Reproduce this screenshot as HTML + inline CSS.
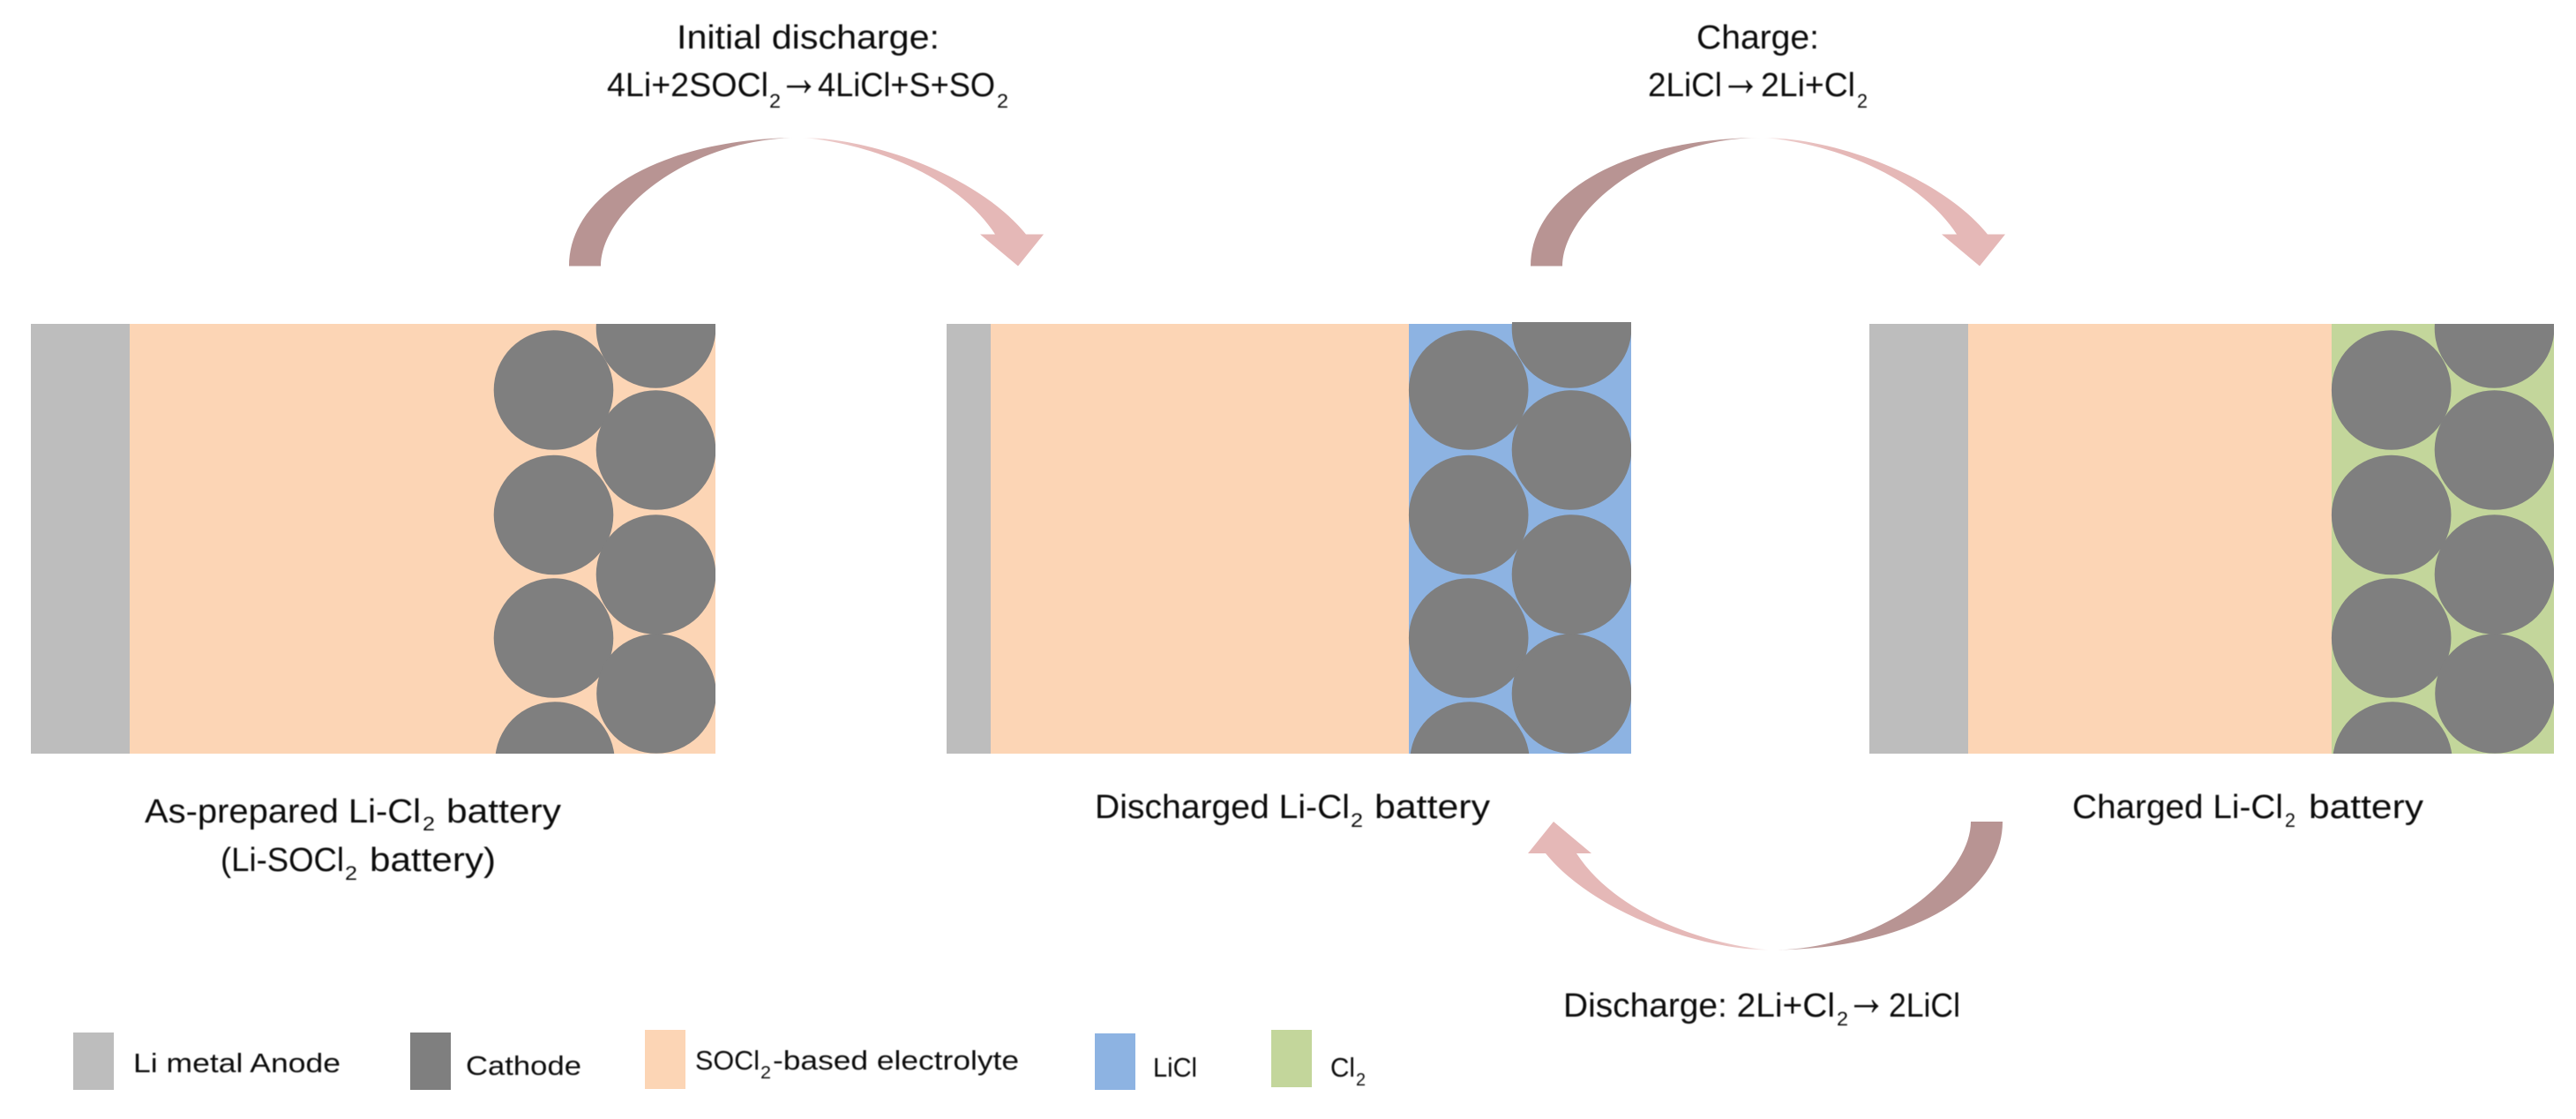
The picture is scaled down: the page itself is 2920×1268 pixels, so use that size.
<!DOCTYPE html>
<html><head><meta charset="utf-8"><style>
html,body{margin:0;padding:0;background:#fff;width:2920px;height:1268px;overflow:hidden}
svg{display:block}
text{font-family:"Liberation Sans",sans-serif;fill:#0c0c0c}
.m{font-size:38px}.s{font-size:22px}.l{font-size:30.5px}.t{font-size:20px}.a{font-size:60px}
.soft{filter:blur(.5px)}
</style></head><body>
<svg width="2920" height="1268" viewBox="0 0 2920 1268" xmlns="http://www.w3.org/2000/svg">
<defs>
<linearGradient id="dk" x1="0" x2="1" y1="0" y2="0"><stop offset="0" stop-color="#b89493"/><stop offset=".72" stop-color="#b89493"/><stop offset=".92" stop-color="#c4a6a5"/><stop offset="1" stop-color="#fff"/></linearGradient>
<linearGradient id="lt" x1="0" x2="1" y1="0" y2="0"><stop offset="0" stop-color="#fff"/><stop offset=".1" stop-color="#ecc9c8"/><stop offset=".3" stop-color="#e5b8b7"/><stop offset="1" stop-color="#e5b8b7"/></linearGradient>
<clipPath id="c1"><rect x="35" y="367" width="776" height="487"/></clipPath>
<clipPath id="c2"><rect x="1073" y="365" width="776" height="489"/></clipPath>
<clipPath id="c3"><rect x="2119" y="367" width="776" height="487"/></clipPath>
<g id="arrow">
<path d="M645 301.5C645 215 760 156 908 156C780 156 681 240 681 301.5Z" fill="url(#dk)"/>
<path d="M908 156C990 156 1110 200 1163 265.5L1183 265.5L1154 301.5L1111 265.5L1128 265.5C1080 192 970 160 908 156Z" fill="url(#lt)"/>
</g>
</defs>

<!-- Battery 1 -->
<rect x="35" y="367" width="112" height="487" fill="#bdbdbd"/>
<rect x="147" y="367" width="664" height="487" fill="#fcd5b5"/>
<g fill="#7f7f7f" clip-path="url(#c1)">
<circle cx="627.5" cy="442" r="67.8"/><circle cx="627.5" cy="583.5" r="67.8"/><circle cx="627.5" cy="723" r="67.8"/><circle cx="629" cy="863" r="67.8"/>
<circle cx="743.5" cy="372" r="67.8"/><circle cx="743.5" cy="510" r="67.8"/><circle cx="743.5" cy="651" r="67.8"/><circle cx="744" cy="786" r="67.8"/>
</g>

<!-- Battery 2 -->
<rect x="1073" y="367" width="50" height="487" fill="#bdbdbd"/>
<rect x="1123" y="367" width="474" height="487" fill="#fcd5b5"/>
<rect x="1597" y="367" width="252" height="487" fill="#8db3e2"/>
<g fill="#7f7f7f" clip-path="url(#c2)">
<circle cx="1664.7" cy="442" r="67.8"/><circle cx="1664.7" cy="583.5" r="67.8"/><circle cx="1664.7" cy="723" r="67.8"/><circle cx="1666" cy="863" r="67.8"/>
<circle cx="1781.5" cy="372" r="67.8"/><circle cx="1781.5" cy="510" r="67.8"/><circle cx="1781.5" cy="651" r="67.8"/><circle cx="1781.5" cy="786" r="67.8"/>
</g>

<!-- Battery 3 -->
<rect x="2119" y="367" width="112" height="487" fill="#bdbdbd"/>
<rect x="2231" y="367" width="412" height="487" fill="#fcd5b5"/>
<rect x="2643" y="367" width="252" height="487" fill="#c3d69b"/>
<g fill="#7f7f7f" clip-path="url(#c3)">
<circle cx="2710.7" cy="442" r="67.8"/><circle cx="2710.7" cy="583.5" r="67.8"/><circle cx="2710.7" cy="723" r="67.8"/><circle cx="2712" cy="863" r="67.8"/>
<circle cx="2827.5" cy="372" r="67.8"/><circle cx="2827.5" cy="510" r="67.8"/><circle cx="2827.5" cy="651" r="67.8"/><circle cx="2828" cy="786" r="67.8"/>
</g>

<!-- Curved arrows -->
<use href="#arrow"/>
<use href="#arrow" transform="translate(1090 0)"/>
<use href="#arrow" transform="matrix(-1 0 0 -1 2915 1232.5)"/>

<g class="soft">
<!-- Top labels -->
<text class="m" x="767" y="55" textLength="298" lengthAdjust="spacingAndGlyphs">Initial discharge:</text>
<text class="m" x="688" y="109" textLength="183" lengthAdjust="spacingAndGlyphs">4Li+2SOCl</text>
<text class="s" x="872" y="122" textLength="13" lengthAdjust="spacingAndGlyphs">2</text>
<text class="a" x="882.5" y="108" textLength="46" lengthAdjust="spacingAndGlyphs">→</text>
<text class="m" x="927" y="109" textLength="201" lengthAdjust="spacingAndGlyphs">4LiCl+S+SO</text>
<text class="s" x="1130" y="122" textLength="13" lengthAdjust="spacingAndGlyphs">2</text>

<text class="m" x="1923" y="55" textLength="139" lengthAdjust="spacingAndGlyphs">Charge:</text>
<text class="m" x="1868" y="109" textLength="84" lengthAdjust="spacingAndGlyphs">2LiCl</text>
<text class="a" x="1950" y="108" textLength="46" lengthAdjust="spacingAndGlyphs">→</text>
<text class="m" x="1996" y="109" textLength="107" lengthAdjust="spacingAndGlyphs">2Li+Cl</text>
<text class="s" x="2105" y="122" textLength="12" lengthAdjust="spacingAndGlyphs">2</text>

<!-- Battery labels -->
<text class="m" x="164" y="932" textLength="313" lengthAdjust="spacingAndGlyphs">As-prepared Li-Cl</text>
<text class="s" x="479" y="941" textLength="14" lengthAdjust="spacingAndGlyphs">2</text>
<text class="m" x="506" y="932" textLength="130" lengthAdjust="spacingAndGlyphs">battery</text>
<text class="m" x="250" y="987" textLength="140" lengthAdjust="spacingAndGlyphs">(Li-SOCl</text>
<text class="s" x="391" y="997" textLength="14" lengthAdjust="spacingAndGlyphs">2</text>
<text class="m" x="419" y="987" textLength="143" lengthAdjust="spacingAndGlyphs">battery)</text>

<text class="m" x="1241" y="927" textLength="289" lengthAdjust="spacingAndGlyphs">Discharged Li-Cl</text>
<text class="s" x="1531" y="937" textLength="14" lengthAdjust="spacingAndGlyphs">2</text>
<text class="m" x="1558" y="927" textLength="131" lengthAdjust="spacingAndGlyphs">battery</text>

<text class="m" x="2349" y="927" textLength="239" lengthAdjust="spacingAndGlyphs">Charged Li-Cl</text>
<text class="s" x="2590" y="937" textLength="12" lengthAdjust="spacingAndGlyphs">2</text>
<text class="m" x="2617" y="927" textLength="130" lengthAdjust="spacingAndGlyphs">battery</text>

<text class="m" x="1772" y="1152" textLength="308" lengthAdjust="spacingAndGlyphs">Discharge: 2Li+Cl</text>
<text class="s" x="2082" y="1162" textLength="13" lengthAdjust="spacingAndGlyphs">2</text>
<text class="a" x="2092.5" y="1150" textLength="46" lengthAdjust="spacingAndGlyphs">→</text>
<text class="m" x="2141" y="1152" textLength="81" lengthAdjust="spacingAndGlyphs">2LiCl</text>

<!-- Legend labels -->
<text class="l" x="151" y="1215" textLength="235" lengthAdjust="spacingAndGlyphs">Li metal Anode</text>
<text class="l" x="528" y="1218" textLength="131" lengthAdjust="spacingAndGlyphs">Cathode</text>
<text class="l" x="788" y="1212" textLength="73" lengthAdjust="spacingAndGlyphs">SOCl</text>
<text class="t" x="862" y="1222" textLength="12" lengthAdjust="spacingAndGlyphs">2</text>
<text class="l" x="876" y="1212" textLength="279" lengthAdjust="spacingAndGlyphs">-based electrolyte</text>
<text class="l" x="1307" y="1220" textLength="50" lengthAdjust="spacingAndGlyphs">LiCl</text>
<text class="l" x="1508" y="1220" textLength="28" lengthAdjust="spacingAndGlyphs">Cl</text>
<text class="t" x="1537" y="1230" textLength="11" lengthAdjust="spacingAndGlyphs">2</text>
</g>

<!-- Legend swatches -->
<rect x="83" y="1170" width="46" height="65" fill="#bdbdbd"/>
<rect x="465" y="1170" width="46" height="65" fill="#7f7f7f"/>
<rect x="731" y="1167" width="46" height="67" fill="#fcd5b5"/>
<rect x="1241" y="1171" width="46" height="64" fill="#8db3e2"/>
<rect x="1441" y="1167" width="46" height="65" fill="#c3d69b"/>
</svg>
</body></html>
